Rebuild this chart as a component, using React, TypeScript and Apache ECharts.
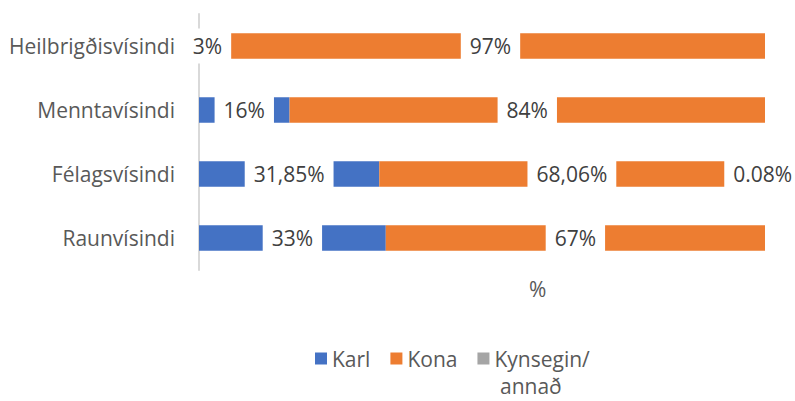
import React, { useEffect, useRef } from "react";
import * as echarts from "echarts";

const categories = ["Heilbrigðisvísindi", "Menntavísindi", "Félagsvísindi", "Raunvísindi"];
const karl = [3, 16, 31.85, 33];
const kona = [97, 84, 68.06, 67];
const kynsegin = [0, 0, 0.08, 0];
const karlLabels = ["3%", "16%", "31,85%", "33%"];
const konaLabels = ["97%", "84%", "68,06%", "67%"];
const kynseginLabels = ["", "", "0.08%", ""];
const seriesNames = ["Karl", "Kona", "Kynsegin/annað"];

const FONT = "'Open Sans', 'Noto Sans', sans-serif";

export default function App() {
  const ref = useRef<HTMLDivElement>(null);
  useEffect(() => {
    if (!ref.current) return;
    document.body.style.margin = "0";
    const chart = echarts.init(ref.current, undefined, { renderer: "svg" });
    const labelBase = {
      show: true,
      position: "inside",
      color: "#404040",
      fontSize: 21,
      fontFamily: FONT,
      backgroundColor: "#ffffff",
      padding: [7, 9],
    };
    const mk = (
      name: string,
      values: number[],
      labels: string[],
      color: string,
      offset: number[] = [0, 0]
    ) => ({
      name,
      type: "bar",
      stack: "total",
      barWidth: "40%",
      itemStyle: { color },
      data: values.map((v) => ({ value: v, label: { show: v > 0 } })),
      label: { ...labelBase, offset, formatter: (p: any) => labels[p.dataIndex] },
    });
    chart.setOption({
      animation: false,
      textStyle: { fontFamily: FONT },
      grid: { left: 199, right: 30, top: 14, height: 256, containLabel: false },
      xAxis: { type: "value", min: 0, max: 100, show: false },
      yAxis: {
        type: "category",
        inverse: true,
        data: categories,
        axisLine: { show: true, lineStyle: { color: "#d9d9d9", width: 2 } },
        axisTick: { show: false },
        axisLabel: { color: "#595959", fontSize: 21, fontFamily: FONT, margin: 24 },
        splitLine: { show: false },
      },
      legend: {
        left: 315,
        top: 348,
        padding: 0,
        itemWidth: 12,
        itemHeight: 12,
        itemGap: 20,
        icon: "rect",
        data: seriesNames,
        textStyle: { color: "#595959", fontSize: 21, lineHeight: 20, fontFamily: FONT },
        formatter: (n: string) => (n === "Kynsegin/annað" ? "Kynsegin/" : n),
      },
      graphic: [
        {
          type: "text",
          left: 529,
          top: 278,
          style: { text: "%", fill: "#595959", fontSize: 21, fontFamily: FONT },
        },
        {
          type: "text",
          left: 500,
          top: 375,
          style: { text: "annað", fill: "#595959", fontSize: 21, lineHeight: 22, fontFamily: FONT },
        },
      ],
      series: [
        mk(seriesNames[0], karl, karlLabels, "#4472c4"),
        mk(seriesNames[1], kona, konaLabels, "#ed7d31"),
        mk(seriesNames[2], kynsegin, kynseginLabels, "#a5a5a5", [-2, 0]),
      ],
    });
    return () => chart.dispose();
  }, []);
  return <div ref={ref} style={{ width: 795, height: 401 }} />;
}
